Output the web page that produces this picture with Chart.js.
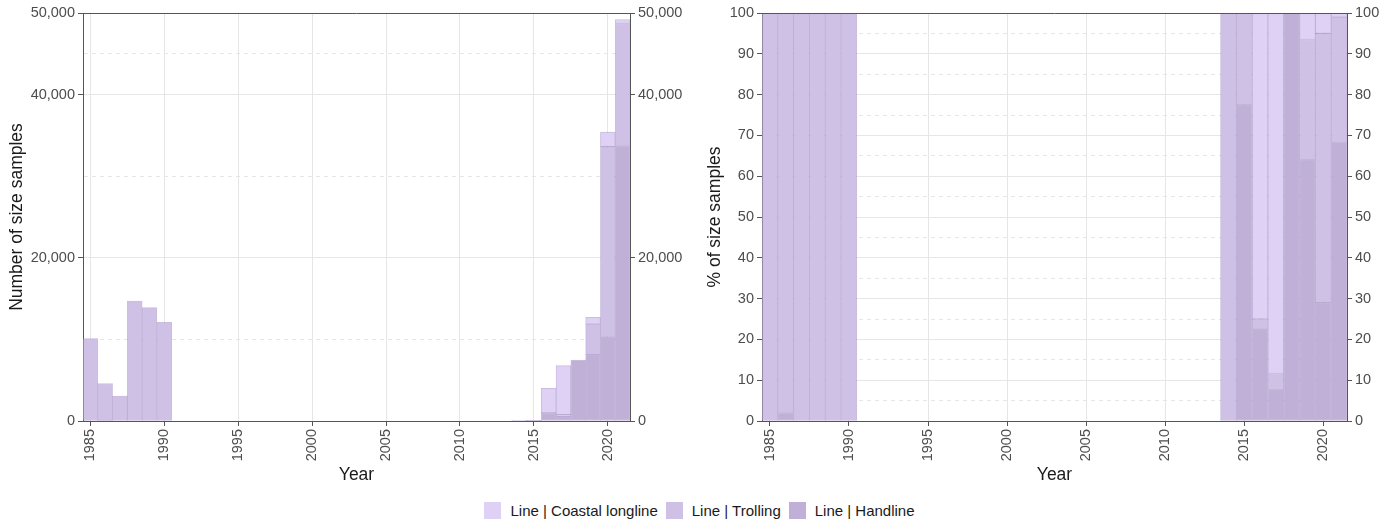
<!DOCTYPE html>
<html>
<head>
<meta charset="utf-8">
<script src="https://cdn.jsdelivr.net/npm/chart.js@4.4.1/dist/chart.umd.min.js"></script>
<style>
	body { margin: 0; background: #fff; font-family: "Liberation Sans", Arial, sans-serif; }
	.wrap { position: relative; width: 1399px; height: 526px; }
	.panel { position: absolute; top: 0; height: 488px; }
	#left { left: 0; width: 690px; }
	#right { left: 690px; width: 709px; }
	.legend { position: absolute; top: 502px; left: 0; width: 1399px; display: flex; justify-content: center; font-size: 15px; color: #1a1a1a; }
	.legend span { display: flex; align-items: center; margin: 0 4px; }
	.legend i { display: inline-block; width: 17px; height: 17px; margin-right: 9px; }
</style>
</head>
<body>
<div class="wrap">
	<div class="panel" id="left"><canvas id="countChart"></canvas></div>
	<div class="panel" id="right"><canvas id="pctChart"></canvas></div>
	<div class="legend" id="legend"></div>
</div>
<script>
const years = ['1985', '1986', '1987', '1988', '1989', '1990', '1991', '1992', '1993', '1994', '1995', '1996', '1997', '1998', '1999', '2000', '2001', '2002', '2003', '2004', '2005', '2006', '2007', '2008', '2009', '2010', '2011', '2012', '2013', '2014', '2015', '2016', '2017', '2018', '2019', '2020', '2021'];

// number of size samples per gear
const handline = [0, 90, 0, 0, 0, 0, 0, 0, 0, 0, 0, 0, 0, 0, 0, 0, 0, 0, 0, 0, 0, 0, 0, 0, 0, 0, 0, 0, 0, 0, 31, 900, 540, 7470, 8130, 10270, 33700];
const trolling = [10100, 4510, 3060, 14700, 13900, 12100, 0, 0, 0, 0, 0, 0, 0, 0, 0, 0, 0, 0, 0, 0, 0, 0, 0, 0, 0, 0, 0, 0, 0, 10, 9, 100, 250, 0, 3745, 23360, 15010];
const coastalLongline = [0, 0, 0, 0, 0, 0, 0, 0, 0, 0, 0, 0, 0, 0, 0, 0, 0, 0, 0, 0, 0, 0, 0, 0, 0, 0, 0, 0, 0, 0, 0, 3000, 5990, 0, 825, 1770, 490];

const seriesNames = ['Line | Coastal longline', 'Line | Trolling', 'Line | Handline'];
const seriesColors = ['#DFD0F5', '#CFC0E6', '#C0B0D8'];

const countTicks = [0, 10000, 20000, 30000, 40000, 45000, 50000];
const countLabels = [0, 20000, 40000, 50000];
const pctTicks = [0, 5, 10, 15, 20, 25, 30, 35, 40, 45, 50, 55, 60, 65, 70, 75, 80, 85, 90, 95, 100];
const pctLabels = [0, 10, 20, 30, 40, 50, 60, 70, 80, 90, 100];

Chart.defaults.font.family = '"Liberation Sans", Arial, sans-serif';
Chart.defaults.color = '#4d4d4d';
Chart.defaults.animation = false;

const gridCol = '#e6e6e6';
const axisCol = '#555555';

const totals = years.map((y, i) => handline[i] + trolling[i] + coastalLongline[i]);
const toPct = arr => arr.map((v, i) => totals[i] ? v / totals[i] * 100 : 0);

function makeDatasets(hl, tr, cl) {
	// bottom to top: handline, trolling, coastal longline
	return [
		{ label: seriesNames[2], data: hl, backgroundColor: seriesColors[2] },
		{ label: seriesNames[1], data: tr, backgroundColor: seriesColors[1] },
		{ label: seriesNames[0], data: cl, backgroundColor: seriesColors[0] }
	].map(ds => Object.assign(ds, {
		borderColor: 'rgba(150,125,190,0.5)',
		borderWidth: 1,
		borderSkipped: false,
		barPercentage: 1,
		categoryPercentage: 1
	}));
}

const frame = {
	id: 'frame',
	afterDraw(chart) {
		const { ctx, chartArea: a } = chart;
		ctx.save();
		ctx.strokeStyle = axisCol;
		ctx.lineWidth = 1;
		ctx.beginPath();
		ctx.moveTo(a.left, a.top + 0.5);
		ctx.lineTo(a.right, a.top + 0.5);
		ctx.stroke();
		ctx.restore();
	}
};

function yAxis(ticks, labels, max, pos, width, title, titlePad, fmt) {
	return {
		position: pos,
		min: 0,
		max: max,
		afterBuildTicks: s => { s.ticks = ticks.map(v => ({ value: v })); },
		afterFit: s => { s.width = width; },
		ticks: {
			font: { size: 14.5 },
			color: '#4d4d4d',
			padding: 3,
			callback: v => labels.includes(v) ? fmt(v) : ''
		},
		grid: {
			drawOnChartArea: pos === 'left',
			color: c => (c.tick.value === 0 || c.tick.value === max) ? 'rgba(0,0,0,0)' : gridCol,
			tickColor: c => labels.includes(c.tick.value) ? axisCol : 'rgba(0,0,0,0)',
			tickLength: 5
		},
		border: {
			color: axisCol,
			dash: c => (c.tick && !labels.includes(c.tick.value)) ? [4, 4] : []
		},
		title: {
			display: !!title,
			text: title,
			color: '#1a1a1a',
			font: { size: 17.5 },
			padding: { top: titlePad, bottom: 2 }
		}
	};
}

function xAxis() {
	return {
		type: 'category',
		stacked: true,
		afterFit: s => { s.height = 67; },
		ticks: {
			autoSkip: false,
			minRotation: 90,
			maxRotation: 90,
			font: { size: 14.5 },
			color: '#4d4d4d',
			padding: 3,
			callback: (v, i) => years[i] % 5 === 0 ? years[i] : ''
		},
		grid: {
			offset: false,
			color: c => years[c.index] % 5 === 0 ? gridCol : 'rgba(0,0,0,0)',
			tickColor: c => years[c.index] % 5 === 0 ? axisCol : 'rgba(0,0,0,0)',
			tickLength: 5
		},
		border: { color: axisCol },
		title: {
			display: true,
			text: 'Year',
			color: '#1a1a1a',
			font: { size: 17.5 },
			padding: { top: 0, bottom: 2 }
		}
	};
}

function makeChart(id, datasets, ticks, labels, max, leftW, rightW, title, titlePad, fmt) {
	const y = yAxis(ticks, labels, max, 'left', leftW, title, titlePad, fmt);
	y.stacked = true;
	return new Chart(document.getElementById(id), {
		type: 'bar',
		data: { labels: years, datasets: datasets },
		options: {
			responsive: true,
			maintainAspectRatio: false,
			layout: { padding: { top: 13, left: 0, right: 0, bottom: 0 } },
			plugins: { legend: { display: false }, tooltip: { enabled: false } },
			scales: {
				x: xAxis(),
				y: y,
				y2: yAxis(ticks, labels, max, 'right', rightW, '', 0, fmt)
			}
		},
		plugins: [frame]
	});
}

makeChart('countChart', makeDatasets(handline, trolling, coastalLongline),
	countTicks, countLabels, 50000, 83, 60, 'Number of size samples', 7, v => v.toLocaleString('en-US'));

makeChart('pctChart', makeDatasets(toPct(handline), toPct(trolling), toPct(coastalLongline)),
	pctTicks, pctLabels, 100, 72, 52, '% of size samples', 15, v => String(v));

const legend = document.getElementById('legend');
seriesNames.forEach((name, i) => {
	const item = document.createElement('span');
	item.innerHTML = '<i style="background:' + seriesColors[i] + '"></i>' + name;
	legend.appendChild(item);
});
</script>
</body>
</html>
